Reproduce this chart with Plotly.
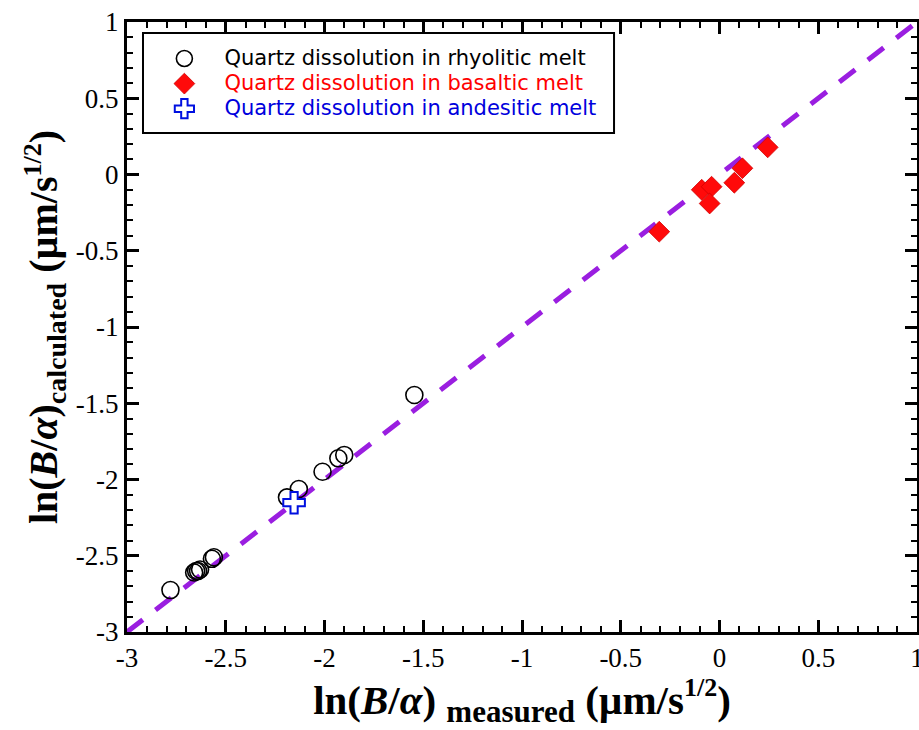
import plotly.graph_objects as go

# Data
rhyo_x = [-2.78, -2.66, -2.65, -2.64, -2.63, -2.57, -2.56, -2.19, -2.13, -2.01, -1.93, -1.90, -1.545]
rhyo_y = [-2.725, -2.61, -2.60, -2.60, -2.59, -2.52, -2.51, -2.117, -2.062, -1.949, -1.861, -1.839, -1.446]

basalt_x = [-0.305, -0.09, -0.04, -0.05, 0.075, 0.116, 0.244]
basalt_y = [-0.375, -0.10, -0.08, -0.19, -0.054, 0.041, 0.178]

andes_x = [-2.154]
andes_y = [-2.152]

line_x = [-3, 1]
line_y = [-3, 1]

tick_vals = [-3, -2.5, -2, -1.5, -1, -0.5, 0, 0.5, 1]
tick_text = ["-3", "-2.5", "-2", "-1.5", "-1", "-0.5", "0", "0.5", "1"]

LEG = '<span style="color:{c};font-size:21px">{t}</span>'

fig = go.Figure()

fig.add_trace(go.Scatter(
    x=line_x, y=line_y, mode="lines", showlegend=False,
    line=dict(color="#9a1ee0", width=5, dash="20px,16px"),
    hoverinfo="skip"))

fig.add_trace(go.Scatter(
    x=rhyo_x, y=rhyo_y, mode="markers",
    name=LEG.format(c="black", t="Quartz dissolution in rhyolitic melt"),
    marker=dict(symbol="circle-open", size=17, color="black", line=dict(width=1.6, color="black"))))

fig.add_trace(go.Scatter(
    x=basalt_x, y=basalt_y, mode="markers",
    name=LEG.format(c="#ff0000", t="Quartz dissolution in basaltic melt"),
    marker=dict(symbol="diamond", size=16, color="#ff0a0a", line=dict(width=0.8, color="#d00000"))))

fig.add_trace(go.Scatter(
    x=andes_x, y=andes_y, mode="markers",
    name=LEG.format(c="#0000dd", t="Quartz dissolution in andesitic melt"),
    marker=dict(symbol="cross", size=18, color="white", line=dict(width=2, color="#0010e0"))))

axis_common = dict(
    range=[-3, 1], tickvals=tick_vals, ticktext=tick_text,
    showline=True, linewidth=3, linecolor="black", mirror="allticks",
    ticks="inside", ticklen=12, tickwidth=2.5, tickcolor="black",
    minor=dict(dtick=0.1, tick0=-3, ticks="inside", ticklen=6, tickwidth=2, tickcolor="black"),
    showgrid=False, zeroline=False, ticklabeloverflow="allow", automargin=False,
    tickfont=dict(family="Liberation Serif", size=27, color="black"),
)

fig.update_xaxes(
    **axis_common,
    title=dict(text="<b>ln(<i>B</i>/<i>α</i>) <sub><span style=\"font-size:31px\">measured</span></sub> (µm/s<sup><span style=\"font-size:26px\">1/2</span></sup>)</b>",
               font=dict(family="Liberation Serif", size=41, color="black"), standoff=4),
)
fig.update_yaxes(
    **axis_common,
    title=dict(text="<b>ln(<i>B</i>/<i>α</i>)<sub><span style=\"font-size:28px\">calculated</span></sub> (µm/s<sup><span style=\"font-size:26px\">1/2</span></sup>)</b>",
               font=dict(family="Liberation Serif", size=40, color="black"), standoff=6),
)

fig.add_shape(type="rect", xref="paper", yref="paper",
              x0=0.02025, x1=0.6165, y0=0.818, y1=0.982,
              line=dict(color="black", width=2), fillcolor="rgba(0,0,0,0)", layer="above")

fig.update_layout(
    width=919, height=730,
    margin=dict(l=127, r=2, t=22, b=98),
    plot_bgcolor="white", paper_bgcolor="white",
    legend=dict(x=0.022, y=0.9689, xanchor="left", yanchor="top",
                bgcolor="rgba(0,0,0,0)", borderwidth=0, itemwidth=70,
                font=dict(family="DejaVu Sans", size=17, color="black")),
)

fig.write_html("out.html")
